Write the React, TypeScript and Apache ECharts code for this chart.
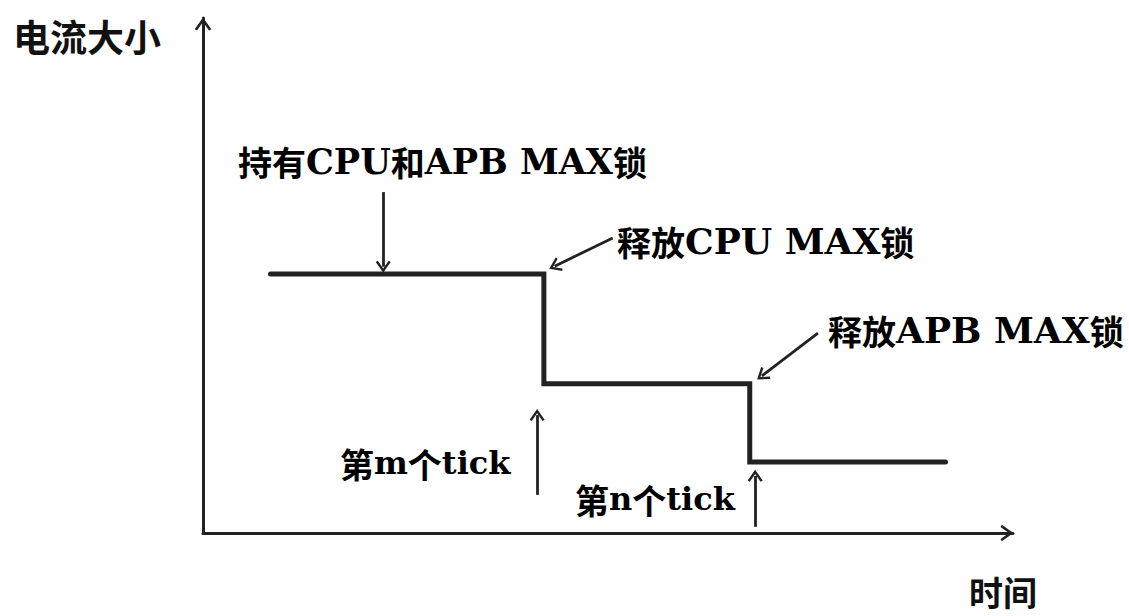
import React, { useEffect, useRef } from "react";
import * as echarts from "echarts";

// Step data (time, current level)
const stepTimes = [1.0, 5.05, 8.1, 11.0];
const stepLevels = [5.03, 2.9, 1.38, 1.38];

// Axis ranges
const xMax = 12;
const yMax = 10;

// Annotation arrows in data units (head at the end point)
const arrowStarts = [
  [2.67, 6.62],
  [6.07, 5.73],
  [9.11, 3.88],
  [4.95, 0.74],
  [8.18, 0.12],
];
const arrowEnds = [
  [2.67, 5.17],
  [5.21, 5.18],
  [8.28, 3.05],
  [4.95, 2.29],
  [8.18, 1.11],
];

// Annotation texts
const axisNameY = "电流大小";
const axisNameX = "时间";
const notes = [
  "持有CPU和APB MAX锁",
  "释放CPU MAX锁",
  "释放APB MAX锁",
  "第m个tick",
  "第n个tick",
];

const chevron = "path://M0,14L10,0L20,14L17.2,15.6L10,5.4L2.8,15.6Z";
const ink = "#222";

function toRich(s: string, latin: string): string {
  const parts = s.match(/[\u3000-\u9fff]+|[^\u3000-\u9fff]+/g) || [];
  return parts
    .map((p) => (/[\u3000-\u9fff]/.test(p) ? `{c|${p}}` : `{${latin}|${p}}`))
    .join("");
}

export default function App() {
  const ref = useRef<HTMLDivElement>(null);
  useEffect(() => {
    if (!ref.current) return;
    const chart = echarts.init(ref.current, undefined, { renderer: "svg" });
    const latinBase = {
      fontFamily: "'DejaVu Serif', 'Liberation Serif', serif",
      fontWeight: "bold",
      color: "#111",
      verticalAlign: "middle",
    };
    const rich = {
      c: {
        fontFamily: "'Noto Sans CJK SC', sans-serif",
        fontWeight: "bold",
        fontSize: 34,
        color: "#111",
        verticalAlign: "middle",
      },
      l35: { ...latinBase, fontSize: 35 },
      l36: { ...latinBase, fontSize: 36 },
      l32: { ...latinBase, fontSize: 32 },
    };
    const cjkFont = {
      fontFamily: "'Noto Sans CJK SC', sans-serif",
      fontWeight: "bold" as const,
      fill: "#111",
    };
    const notePos = [
      [238, 161],
      [617, 241],
      [828, 330],
      [340, 463],
      [575, 499],
    ];
    const noteLatin = ["l35", "l36", "l36", "l32", "l32"];
    chart.setOption({
      animation: false,
      backgroundColor: "#fff",
      grid: { left: 203, top: 18, right: 116, bottom: 83 },
      xAxis: {
        type: "value",
        min: 0,
        max: xMax,
        axisLine: {
          show: true,
          lineStyle: { color: ink, width: 3 },
          symbol: ["none", chevron],
          symbolSize: [17, 13],
          symbolOffset: [0, -6],
        },
        axisTick: { show: false },
        axisLabel: { show: false },
        splitLine: { show: false },
      },
      yAxis: {
        type: "value",
        min: 0,
        max: yMax,
        axisLine: {
          show: true,
          lineStyle: { color: ink, width: 3 },
          symbol: ["none", chevron],
          symbolSize: [17, 13],
          symbolOffset: [0, -6],
        },
        axisTick: { show: false },
        axisLabel: { show: false },
        splitLine: { show: false },
      },
      series: [
        {
          type: "line",
          step: "end",
          symbol: "none",
          data: stepTimes.map((t, i) => [t, stepLevels[i]]),
          lineStyle: { color: ink, width: 5, cap: "round", join: "miter" },
          markLine: {
            silent: true,
            symbol: ["none", chevron],
            symbolSize: [15, 12],
            label: { show: false },
            lineStyle: { color: ink, width: 2.8, type: "solid" },
            emphasis: { disabled: true },
            data: arrowStarts.map((s, i) => [
              { coord: s },
              { coord: arrowEnds[i] },
            ]),
          },
        },
      ],
      graphic: [
        {
          type: "text",
          x: 13,
          y: 36,
          style: { text: axisNameY, ...cjkFont, fontSize: 37, textVerticalAlign: "middle" },
        },
        {
          type: "text",
          x: 969,
          y: 591,
          style: { text: axisNameX, ...cjkFont, fontSize: 34, textVerticalAlign: "middle" },
        },
        ...notes.map((t, i) => ({
          type: "text",
          x: notePos[i][0],
          y: notePos[i][1],
          style: { text: toRich(t, noteLatin[i]), rich, textVerticalAlign: "middle" },
        })),
      ],
    });
    return () => chart.dispose();
  }, []);
  return (
    <div
      ref={ref}
      style={{ position: "absolute", left: 0, top: 0, width: 1129, height: 616 }}
    />
  );
}
